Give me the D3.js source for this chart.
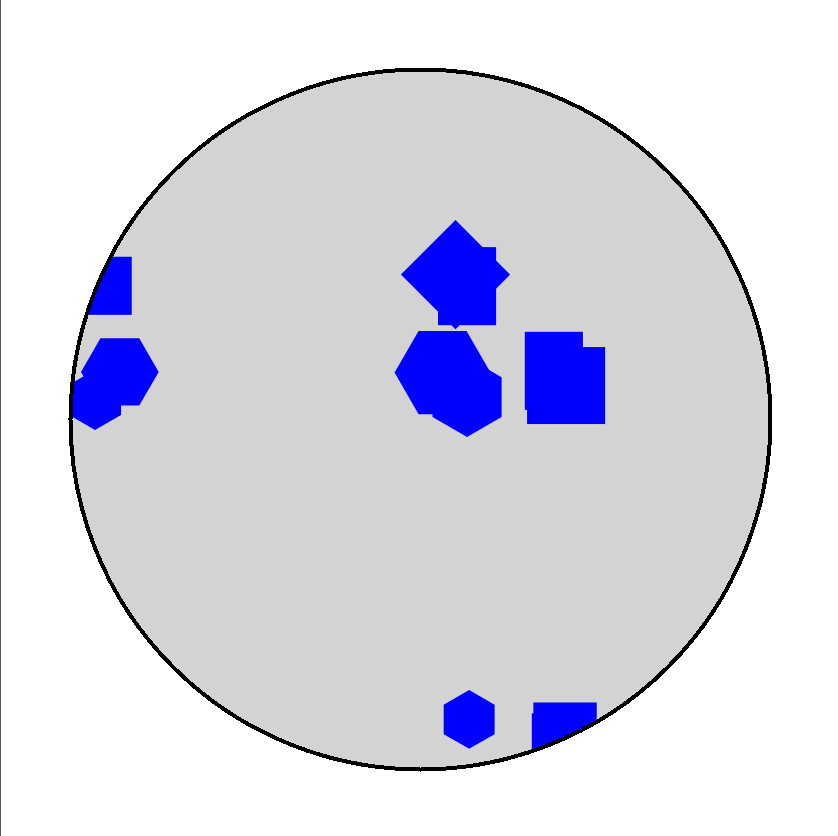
<!DOCTYPE html>
<html>
<head>
<meta charset="utf-8">
<script src="https://cdn.jsdelivr.net/npm/d3@7"></script>
<style>
  html, body { margin: 0; padding: 0; background: #fff; }
  svg { display: block; }
</style>
</head>
<body>
<svg id="chart" width="838" height="836"></svg>
<script>
// ---- data (unit-disk coordinates) ----
const rectX = [0.133, 0.381, 0.416, -0.908, 0.401, 0.413];
const rectY = [0.381, 0.139, 0.097, 0.382, -0.951, -0.899];
const rectW = [0.166, 0.166, 0.223, 0.166, 0.166, 0.181];
const rectH = [0.223, 0.223, 0.220, 0.166, 0.223, 0.181];

const diamondX = [0.100];
const diamondY = [0.414];
const diamondR = [0.156];

const hexX = [0.063, 0.133, -0.859, -0.930, 0.139];
const hexY = [0.134, 0.064, 0.136, 0.056, -0.857];
const hexR = [0.137, 0.114, 0.111, 0.086, 0.084];
const hexOrient = ["flat", "pointy", "flat", "pointy", "pointy"];

// ---- layout ----
const svg = d3.select("#chart");
const cx = 420.5, cy = 419.5, R = 350;
const x = d3.scaleLinear().domain([-1, 1]).range([cx - R, cx + R]);
const y = d3.scaleLinear().domain([-1, 1]).range([cy + R, cy - R]);
const len = d3.scaleLinear().domain([0, 1]).range([0, R]);

svg.append("rect").attr("x", 0).attr("y", 0).attr("width", 1).attr("height", 836).attr("fill", "#555");

svg.append("defs").append("clipPath").attr("id", "disk")
  .append("circle").attr("cx", x(0)).attr("cy", y(0)).attr("r", len(1));

svg.append("circle")
  .attr("cx", x(0)).attr("cy", y(0)).attr("r", len(1))
  .attr("fill", "#d3d3d3")
  .attr("shape-rendering", "crispEdges");

const g = svg.append("g").attr("clip-path", "url(#disk)");
const line = d3.line();

// rectangles
const rects = rectX.map((v, i) => ({x: v, y: rectY[i], w: rectW[i], h: rectH[i]}));
g.selectAll("rect.sq").data(rects).join("rect")
  .attr("class", "sq")
  .attr("x", d => x(d.x) - len(d.w) / 2)
  .attr("y", d => y(d.y) - len(d.h) / 2)
  .attr("width", d => len(d.w))
  .attr("height", d => len(d.h))
  .attr("fill", "#0000ff");

// diamonds
const diamonds = diamondX.map((v, i) => ({x: v, y: diamondY[i], r: diamondR[i]}));
g.selectAll("path.dm").data(diamonds).join("path")
  .attr("class", "dm")
  .attr("d", d => {
    const px = x(d.x), py = y(d.y), r = len(d.r);
    const pts = d3.range(4).map(k => {
      const a = k * Math.PI / 2;
      return [px + r * Math.cos(a), py + r * Math.sin(a)];
    });
    return line(pts) + "Z";
  })
  .attr("fill", "#0000ff");

// hexagons
const hexes = hexX.map((v, i) => ({x: v, y: hexY[i], r: hexR[i], o: hexOrient[i]}));
g.selectAll("path.hx").data(hexes).join("path")
  .attr("class", "hx")
  .attr("d", d => {
    const px = x(d.x), py = y(d.y), r = len(d.r);
    const off = d.o === "flat" ? 0 : Math.PI / 6;
    const pts = d3.range(6).map(k => {
      const a = off + k * Math.PI / 3;
      return [px + r * Math.cos(a), py + r * Math.sin(a)];
    });
    return line(pts) + "Z";
  })
  .attr("fill", "#0000ff");

// outline on top
svg.append("circle")
  .attr("cx", x(0)).attr("cy", y(0)).attr("r", len(1))
  .attr("fill", "none")
  .attr("stroke", "#000")
  .attr("stroke-width", 4)
  .attr("shape-rendering", "crispEdges");
</script>
</body>
</html>
